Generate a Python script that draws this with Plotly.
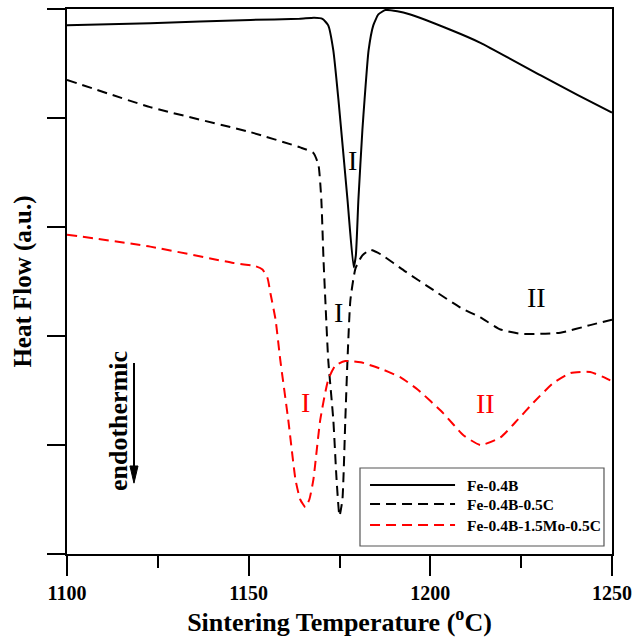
import plotly.graph_objects as go

# Temperature (deg C) and heat flow (arbitrary units, stacked) for each alloy
fe_b_temp = [1100, 1122.9, 1150.5, 1164, 1168, 1170.3, 1171.9, 1173.3, 1174.7, 1177.2,
             1178.9, 1179.5, 1180.2, 1181.3, 1181.9, 1183.0, 1184.3, 1185.7, 1187.6, 1190.9,
             1194.5, 1205.5, 1213.8, 1230.4, 1240.6, 1250]
fe_b_flow = [4.85, 4.87, 4.90, 4.91, 4.92, 4.91, 4.85, 4.62, 4.17, 3.25,
             2.63, 2.74, 3.25, 3.89, 4.17, 4.62, 4.85, 4.95, 4.99, 4.98,
             4.95, 4.81, 4.69, 4.39, 4.21, 4.05]

fe_bc_temp = [1100, 1122.9, 1150.5, 1164.2, 1167.8, 1169.2, 1170.0, 1170.6, 1171.1, 1171.9,
              1173.3, 1174.2, 1175.0, 1175.8, 1176.6, 1177.2, 1178.0, 1179.4, 1181.3, 1183.5,
              1186.3, 1193.2, 1200.9, 1208.3, 1213.8, 1219.3, 1224.8, 1230.3, 1235.8, 1244.0, 1250]
fe_bc_flow = [4.35, 4.10, 3.87, 3.73, 3.68, 3.57, 3.25, 2.70, 2.33, 1.78,
              1.23, 0.68, 0.35, 0.50, 1.23, 1.78, 2.33, 2.62, 2.74, 2.79,
              2.75, 2.59, 2.42, 2.26, 2.17, 2.06, 2.02, 2.02, 2.03, 2.10, 2.15]

fe_bmoc_temp = [1100, 1122.9, 1145.8, 1151.9, 1153.8, 1155.2, 1156.0, 1157.4, 1158.7, 1160.9,
                1162.9, 1164.2, 1165.6, 1166.7, 1167.8, 1169.7, 1171.9, 1173.9, 1176.6, 1180.8,
                1187.1, 1191.8, 1196.5, 1203.6, 1209.1, 1213.8, 1219.3, 1224.0, 1228.4, 1233.9,
                1238.6, 1244.0, 1249.1, 1250]
fe_bmoc_flow = [2.93, 2.82, 2.67, 2.64, 2.61, 2.53, 2.39, 2.15, 1.78, 1.23,
                0.68, 0.50, 0.43, 0.50, 0.68, 1.23, 1.60, 1.73, 1.77, 1.76,
                1.69, 1.62, 1.51, 1.29, 1.09, 1.00, 1.07, 1.23, 1.39, 1.57,
                1.66, 1.67, 1.60, 1.58]

series_names = ["Fe-0.4B", "Fe-0.4B-0.5C", "Fe-0.4B-1.5Mo-0.5C"]
series_colors = ["black", "black", "red"]
series_dash = ["solid", "10px,6px", "10px,6px"]

# Peak labels: text, temperature, heat flow, colour
peak_text = ["I", "I", "II", "I", "II"]
peak_temp = [1178.6, 1174.7, 1229.3, 1165.6, 1215.2]
peak_flow = [3.61, 2.22, 2.35, 1.39, 1.38]
peak_color = ["black", "black", "black", "red", "red"]

x_ticks = [1100, 1150, 1200, 1250]

serif = "Liberation Serif"

fig = go.Figure()
for temp, flow, name, color, dash in zip(
        [fe_b_temp, fe_bc_temp, fe_bmoc_temp],
        [fe_b_flow, fe_bc_flow, fe_bmoc_flow],
        series_names, series_colors, series_dash):
    fig.add_trace(go.Scatter(
        x=temp, y=flow, mode="lines", name=name, showlegend=False,
        line=dict(color=color, width=2, dash=dash, shape="spline", smoothing=0.5),
    ))

for t, x, y, c in zip(peak_text, peak_temp, peak_flow, peak_color):
    fig.add_annotation(x=x, y=y, text=t, showarrow=False,
                       font=dict(family=serif, size=28, color=c))

# "endothermic" label with a downward arrow beside it
fig.add_annotation(xref="paper", yref="paper", x=0.0936, y=0.244,
                   xanchor="center", yanchor="middle", text="<b>endothermic</b>",
                   textangle=-90, showarrow=False,
                   font=dict(family=serif, size=26, color="black"))
fig.add_shape(type="line", xref="paper", yref="paper",
              x0=0.1229, x1=0.1229, y0=0.3505, y1=0.150,
              line=dict(color="black", width=2))
fig.add_shape(type="path", xref="paper", yref="paper",
              path="M0.1155,0.1615 L0.1303,0.1615 L0.1229,0.130 Z",
              fillcolor="black", line=dict(color="black", width=1))

# Legend box drawn in paper coordinates
legend_x0, legend_x1 = 0.5376, 0.9853
legend_y0, legend_y1 = 0.0147, 0.1578
legend_rows = [0.1266, 0.0917, 0.0532]
fig.add_shape(type="rect", xref="paper", yref="paper",
              x0=legend_x0, x1=legend_x1, y0=legend_y0, y1=legend_y1,
              fillcolor="white", line=dict(color="#555", width=1.2), layer="above")
for row, name, color, dash in zip(legend_rows, series_names, series_colors, series_dash):
    fig.add_shape(type="line", xref="paper", yref="paper",
                  x0=0.556, x1=0.712, y0=row, y1=row,
                  line=dict(color=color, width=2, dash=dash), layer="above")
    fig.add_annotation(xref="paper", yref="paper", x=0.7303, y=row,
                       xanchor="left", yanchor="middle", text=f"<b>{name}</b>",
                       showarrow=False, font=dict(family=serif, size=15.5, color="black"))

axis_common = dict(
    showline=True, linecolor="black", linewidth=2, mirror=True,
    ticks="outside", tickcolor="black", tickwidth=2,
    showgrid=False, zeroline=False, automargin=False,
)

fig.update_layout(
    width=633, height=642,
    margin=dict(l=67, r=21, t=9, b=88),
    paper_bgcolor="white", plot_bgcolor="white",
    font=dict(family=serif, color="black"),
    showlegend=False,
    xaxis=dict(
        range=[1100, 1250], tickvals=x_ticks, ticklen=20,
        minor=dict(dtick=25, tick0=1100, ticks="outside", ticklen=12, tickwidth=2,
                   tickcolor="black"),
        tickfont=dict(family=serif, size=20, weight="bold"),
        title=dict(text="<b>Sintering Temperature (<sup>o</sup>C)</b>",
                   font=dict(family=serif, size=26), standoff=10),
        **axis_common,
    ),
    yaxis=dict(
        range=[0, 5], dtick=1, tick0=0, ticklen=18, showticklabels=False,
        title=dict(text="<b>Heat Flow (a.u.)</b>", font=dict(family=serif, size=25),
                   standoff=8),
        **axis_common,
    ),
)

fig.write_html("out.html")
